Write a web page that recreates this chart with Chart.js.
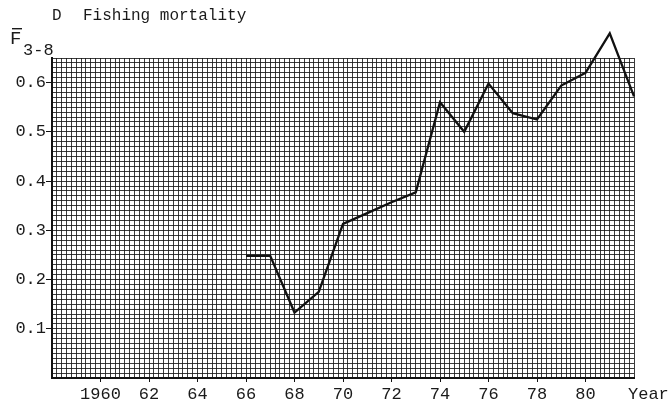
<!DOCTYPE html>
<html>
<head>
<meta charset="utf-8">
<script src="https://cdn.jsdelivr.net/npm/chart.js@4/dist/chart.umd.min.js"></script>
<style>
  html, body { margin: 0; padding: 0; background: #fff; }
  #chartDiv { width: 668px; height: 405px; }
</style>
</head>
<body>
<div id="chartDiv"><canvas id="myChart"></canvas></div>
<script>
const canvas = document.getElementById('myChart');

// data
const years = [1966, 1967, 1968, 1969, 1970, 1971, 1972, 1973, 1974, 1975, 1976, 1977, 1978, 1979, 1980, 1981, 1982];
const fbar = [0.248, 0.248, 0.133, 0.175, 0.313, 0.335, 0.357, 0.377, 0.56, 0.50, 0.598, 0.538, 0.525, 0.594, 0.62, 0.70, 0.572];
const yTickLabels = ['0.1', '0.2', '0.3', '0.4', '0.5', '0.6'];
const xTickLabels = ['1960', '62', '64', '66', '68', '70', '72', '74', '76', '78', '80'];

const typeFont = "'Liberation Mono', 'DejaVu Sans Mono', monospace";
const ink = '#1a1a1a';

const near = (v, t) => Math.abs(v - t) < 1e-6;

function yLabel(v) {
    for (const l of yTickLabels) if (near(v, parseFloat(l))) return l;
    return '';
}
function xLabel(v) {
    for (let i = 0; i < xTickLabels.length; i++) {
        if (near(v, 1960 + i * 2)) return xTickLabels[i];
    }
    return '';
}

const textPlugin = {
    id: 'paperText',
    afterDraw(chart) {
        const c = chart.ctx;
        c.save();
        c.fillStyle = ink;
        c.textBaseline = 'alphabetic';
        c.font = '16px ' + typeFont;
        c.fillText('D', 52, 20);
        c.fillText('Fishing mortality', 83, 20);
        // F-bar with subscript
        c.font = '19px ' + typeFont;
        c.fillText('F', 10, 44);
        c.fillRect(12, 28, 10, 1.4);
        c.font = '17px ' + typeFont;
        c.fillText('3-8', 23, 55);
        c.fillText('Year', 628, 399);
        c.restore();
    }
};

const config = {
    type: 'line',
    data: {
        datasets: [{
            label: 'F 3-8',
            data: years.map((y, i) => ({ x: y, y: fbar[i] })),
            borderColor: '#111',
            borderWidth: 2.3,
            pointRadius: 0,
            tension: 0,
            fill: false,
            clip: false
        }]
    },
    options: {
        responsive: false,
        animation: false,
        maintainAspectRatio: false,
        layout: { padding: { top: 58, right: 34, left: 0, bottom: 0 } },
        plugins: { legend: { display: false }, tooltip: { enabled: false } },
        scales: {
            x: {
                type: 'linear',
                min: 1958,
                max: 1982,
                afterFit: s => { s.height = 27; },
                border: { display: true, color: '#111', width: 2 },
                grid: {
                    color: 'rgba(25,25,25,0.85)',
                    lineWidth: 1,
                    tickLength: 4,
                    tickColor: ctx => (ctx.tick && xLabel(ctx.tick.value)) ? '#111' : 'rgba(0,0,0,0)'
                },
                ticks: {
                    stepSize: 0.2,
                    autoSkip: false,
                    maxRotation: 0,
                    padding: 2,
                    color: ink,
                    font: { family: typeFont, size: 17 },
                    callback: v => xLabel(v)
                }
            },
            y: {
                min: 0,
                max: 0.65,
                afterFit: s => { s.width = 52; },
                border: { display: true, color: '#111', width: 2 },
                grid: {
                    color: 'rgba(25,25,25,0.85)',
                    lineWidth: 1,
                    tickLength: 6,
                    tickColor: ctx => (ctx.tick && yLabel(ctx.tick.value)) ? '#111' : 'rgba(0,0,0,0)'
                },
                ticks: {
                    stepSize: 0.01,
                    autoSkip: false,
                    padding: 0,
                    color: ink,
                    font: { family: typeFont, size: 17 },
                    callback: v => yLabel(v)
                }
            }
        }
    },
    plugins: [textPlugin]
};

canvas.width = 668;
canvas.height = 405;
const myChart = new Chart(canvas, config);
</script>
</body>
</html>
